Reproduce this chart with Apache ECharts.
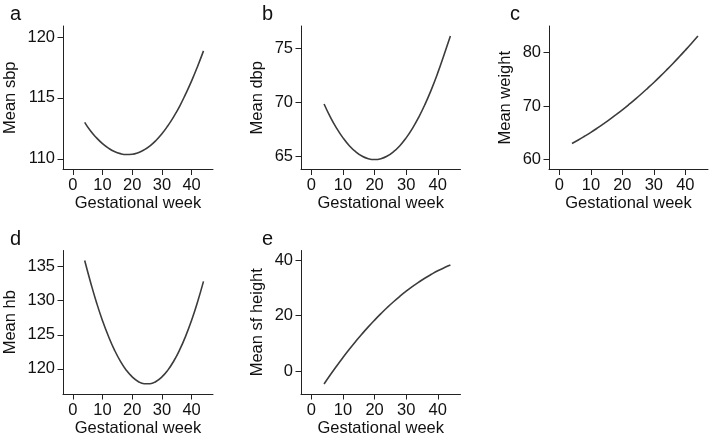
<!DOCTYPE html>
<html>
<head>
<meta charset="utf-8">
<script src="https://cdn.jsdelivr.net/npm/echarts@6/dist/echarts.min.js"></script>
<style>
html,body{margin:0;padding:0;background:#fff;}
#chart{width:709px;height:439px;}
</style>
</head>
<body>
<div id="chart"></div>
<script>
var weeks = [4,6,8,10,12,14,16,18,20,22,24,26,28,30,32,34,36,38,40,42,44];
var sbp = [113.0,112.28,111.72,111.25,110.88,110.6,110.43,110.36,110.38,110.51,110.74,111.07,111.51,112.06,112.72,113.47,114.33,115.33,116.4,117.58,118.86];
var dbp = [69.85,68.64,67.6,66.72,66.0,65.44,65.04,64.8,64.72,64.8,65.04,65.44,66.0,66.72,67.6,68.64,69.84,71.2,72.72,74.4,76.13];
var weight = [63.0,63.66,64.36,65.09,65.86,66.67,67.51,68.39,69.3,70.25,71.24,72.26,73.32,74.41,75.55,76.72,77.92,79.16,80.44,81.75,83.1];
var hb = [135.88,132.67,129.7,127.07,124.78,122.8,121.15,119.82,118.83,118.17,117.84,117.84,118.17,118.83,119.83,121.16,122.82,124.81,127.14,129.82,132.83];
var sfh = [-4.7,-1.38,1.81,4.89,7.84,10.66,13.37,15.95,18.4,20.74,22.96,25.05,27.01,28.86,30.58,32.18,33.65,34.99,36.24,37.34,38.32];
var xTicks = [0,10,20,30,40];
var yTicksA = [110,115,120];
var yTicksB = [65,70,75];
var yTicksC = [60,70,80];
var yTicksD = [120,125,130,135];
var yTicksE = [0,20,40];
var panelLetters = ['a','b','c','d','e'];
var yNames = ['Mean sbp','Mean dbp','Mean weight','Mean hb','Mean sf height'];
var xName = 'Gestational week';

var FONT = 'Liberation Sans, Arial, sans-serif';
var AX = '#222';
var TXT = '#111';
var FS = 16.5;

var grids = [
  {left:63, top:26, width:150, height:143.5},
  {left:301, top:26, width:159.5, height:143.5},
  {left:549, top:26, width:159, height:143.5},
  {left:63, top:250.5, width:150, height:143.5},
  {left:301, top:250.5, width:159.5, height:143.5}
];
var yRanges = [[109.13,120.9],[63.8,77.05],[58.14,84.97],[116.33,137.35],[-8.34,43.6]];
var yTicks = [yTicksA,yTicksB,yTicksC,yTicksD,yTicksE];
var yNameGaps = [44.5,35.5,35.5,44.5,35.5];
var seriesVals = [sbp,dbp,weight,hb,sfh];

var option = {
  animation:false,
  backgroundColor:'#fff',
  grid: grids.map(function(g){ return Object.assign({containLabel:false, outerBoundsMode:'none'}, g); }),
  xAxis: grids.map(function(g,i){
    return {
      type:'value', gridIndex:i, min:-3.3, max:47.2,
      name:xName, nameLocation:'middle', nameGap:25.5,
      nameTextStyle:{fontSize:FS, color:TXT, fontFamily:FONT},
      axisLine:{show:true, onZero:false, lineStyle:{color:AX, width:1}},
      axisTick:{show:true, customValues:xTicks, length:5.5, lineStyle:{color:AX}},
      axisLabel:{customValues:xTicks, fontSize:FS, color:TXT, fontFamily:FONT, margin:7.5},
      splitLine:{show:false}
    };
  }),
  yAxis: grids.map(function(g,i){
    return {
      type:'value', gridIndex:i, min:yRanges[i][0], max:yRanges[i][1],
      name:yNames[i], nameLocation:'middle', nameGap:yNameGaps[i],
      nameTextStyle:{fontSize:FS, color:TXT, fontFamily:FONT},
      axisLine:{show:true, onZero:false, lineStyle:{color:AX, width:1}},
      axisTick:{show:true, customValues:yTicks[i], length:5.5, lineStyle:{color:AX}},
      axisLabel:{customValues:yTicks[i], fontSize:FS, color:TXT, fontFamily:FONT, margin:8},
      splitLine:{show:false}
    };
  }),
  series: seriesVals.map(function(vals,i){
    return {
      type:'line', xAxisIndex:i, yAxisIndex:i, smooth:true, symbol:'none',
      lineStyle:{color:'#3c3c3c', width:1.6},
      data: weeks.map(function(w,k){ return [w, vals[k]]; })
    };
  }),
  graphic: [
    {type:'text', left:10, top:4, style:{text:panelLetters[0], font:'20px '+FONT, fill:TXT}},
    {type:'text', left:262, top:4, style:{text:panelLetters[1], font:'20px '+FONT, fill:TXT}},
    {type:'text', left:510, top:4, style:{text:panelLetters[2], font:'20px '+FONT, fill:TXT}},
    {type:'text', left:10, top:229, style:{text:panelLetters[3], font:'20px '+FONT, fill:TXT}},
    {type:'text', left:262, top:229, style:{text:panelLetters[4], font:'20px '+FONT, fill:TXT}}
  ]
};
var chart = echarts.init(document.getElementById('chart'), null, {renderer:'canvas'});
chart.setOption(option);
</script>
</body>
</html>
